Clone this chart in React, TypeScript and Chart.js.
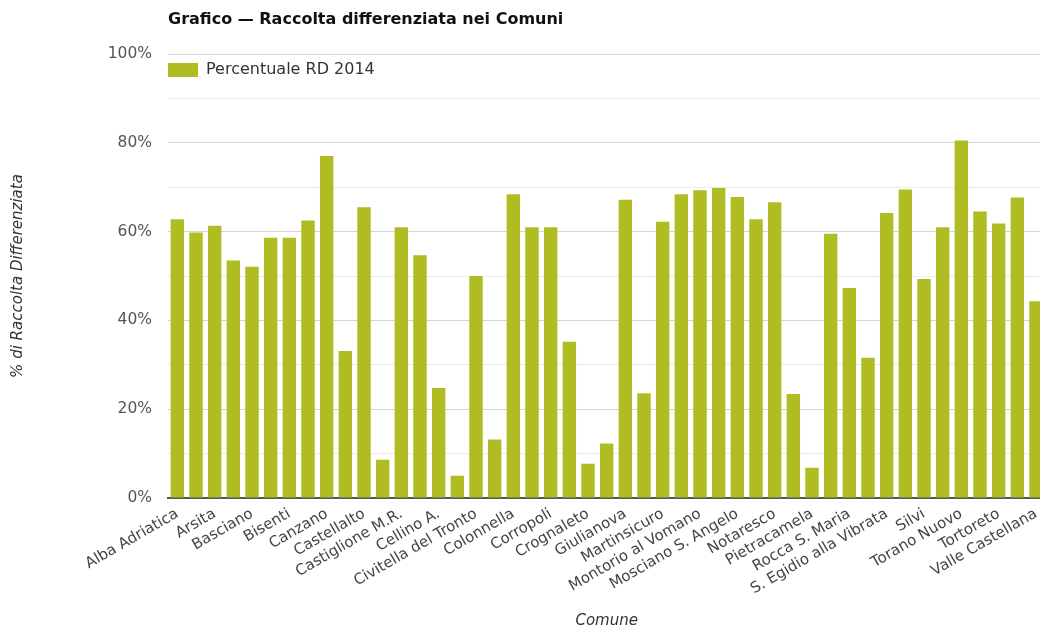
import React, { useEffect, useRef } from 'react';
import { Chart, registerables } from 'chart.js';

Chart.register(...registerables);

const CHART_TITLE = 'Grafico — Raccolta differenziata nei Comuni';
const SERIES_LABEL = 'Percentuale RD 2014';
const Y_TITLE = '% di Raccolta Differenziata';
const X_TITLE = 'Comune';

const comuni = [
  'Alba Adriatica', 'Ancarano', 'Arsita', 'Atri', 'Basciano', 'Bellante', 'Bisenti', 'Campli',
  'Canzano', 'Castel Castagna', 'Castellalto', 'Castelli', 'Castiglione M.R.', 'Castilenti',
  'Cellino A.', 'Cermignano', 'Civitella del Tronto', 'Colledara', 'Colonnella', 'Controguerra',
  'Corropoli', 'Cortino', 'Crognaleto', 'Fano Adriano', 'Giulianova', 'Isola del Gran Sasso',
  'Martinsicuro', 'Montefino', 'Montorio al Vomano', "Morro d'Oro", 'Mosciano S. Angelo', 'Nereto',
  'Notaresco', 'Penna S. Andrea', 'Pietracamela', 'Pineto', 'Rocca S. Maria', 'Roseto degli Abruzzi',
  'S. Egidio alla Vibrata', "S. Omero", 'Silvi', 'Teramo', 'Torano Nuovo', 'Torricella Sicura',
  'Tortoreto', 'Tossicia', 'Valle Castellana',
];

const rd2014 = [
  62.8, 59.8, 61.3, 53.5, 52.1, 58.6, 58.6, 62.5,
  77.0, 33.1, 65.5, 8.6, 61.0, 54.7,
  24.8, 5.0, 50.0, 13.2, 68.4, 61.0,
  61.0, 35.2, 7.7, 12.3, 67.2, 23.6,
  62.2, 68.4, 69.3, 69.8, 67.8, 62.8,
  66.6, 23.4, 6.8, 59.5, 47.3, 31.6,
  64.2, 69.5, 49.3, 61.0, 80.5, 64.5,
  61.8, 67.7, 44.3,
];

const Y_MIN = 0;
const Y_MAX = 100;
const Y_STEP = 10;
const Y_LABEL_STEP = 20;

const BAR_COLOR = '#afbd22';
const FONT = '"DejaVu Sans", Verdana, sans-serif';

const overlayPlugin = {
  id: 'overlay',
  afterDraw(chart: any) {
    const { ctx, chartArea } = chart;
    ctx.save();
    ctx.textBaseline = 'middle';
    ctx.textAlign = 'left';
    ctx.font = `bold 16px ${FONT}`;
    ctx.fillStyle = '#111';
    ctx.fillText(CHART_TITLE, chartArea.left, 12);
    ctx.fillStyle = BAR_COLOR;
    ctx.fillRect(chartArea.left, chartArea.top + 9, 30, 14);
    ctx.font = `16px ${FONT}`;
    ctx.fillStyle = '#333';
    ctx.fillText(SERIES_LABEL, chartArea.left + 38, chartArea.top + 16);
    ctx.restore();
  },
};

export default function App() {
  const ref = useRef<HTMLCanvasElement>(null);

  useEffect(() => {
    if (!ref.current) return;
    Chart.defaults.font.family = FONT;
    const chart = new Chart(ref.current, {
      type: 'bar',
      data: {
        labels: comuni,
        datasets: [
          {
            label: SERIES_LABEL,
            data: rd2014,
            backgroundColor: BAR_COLOR,
            borderWidth: 0,
          },
        ],
      },
      options: {
        animation: false,
        responsive: true,
        maintainAspectRatio: false,
        layout: { padding: { top: 46, left: 0, right: 0, bottom: 0 } },
        plugins: {
          legend: { display: false },
          title: { display: false },
          tooltip: { enabled: false },
        },
        scales: {
          x: {
            grid: { display: false, drawTicks: false },
            border: { display: true, color: '#555', width: 2 },
            ticks: {
              autoSkip: false,
              minRotation: 30,
              maxRotation: 30,
              padding: 7,
              color: '#444',
              font: { size: 15 },
              callback: (_v: any, i: number) => (i % 2 === 0 ? comuni[i] : ''),
            },
            title: {
              display: true,
              text: X_TITLE,
              color: '#333',
              font: { size: 15, style: 'italic' },
              padding: { top: 0, bottom: 0 },
            },
            afterFit: (s: any) => {
              s.height = 132;
            },
          },
          y: {
            min: Y_MIN,
            max: Y_MAX,
            border: { display: false },
            grid: {
              drawTicks: false,
              color: (c: any) => (c.tick && c.tick.value % Y_LABEL_STEP === 0 ? '#d6d6d6' : '#ececec'),
              lineWidth: 1,
            },
            ticks: {
              stepSize: Y_STEP,
              padding: 16,
              color: '#555',
              font: { size: 15.5 },
              callback: (v: any) => (Number(v) % Y_LABEL_STEP === 0 ? `${v}%` : ''),
            },
            title: {
              display: true,
              text: Y_TITLE,
              color: '#333',
              font: { size: 15, style: 'italic' },
              padding: { top: 1, bottom: 0 },
            },
            afterFit: (s: any) => {
              s.width = 160;
            },
          },
        },
      },
      plugins: [overlayPlugin],
    });
    return () => chart.destroy();
  }, []);

  return (
    <div
      style={{
        position: 'fixed',
        left: 8,
        top: 8,
        width: 1032,
        height: 622,
        overflow: 'hidden',
        background: '#fff',
      }}
    >
      <div style={{ position: 'relative', width: 1044, height: 622 }}>
        <canvas ref={ref} />
      </div>
    </div>
  );
}
